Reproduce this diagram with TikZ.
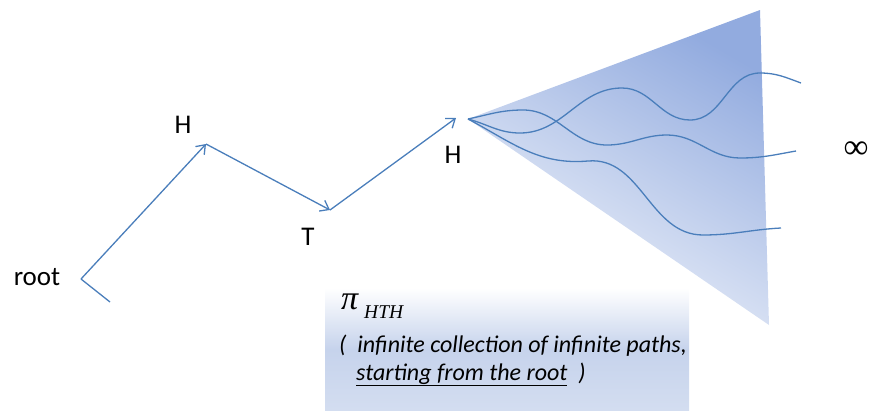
\documentclass[tikz,border=0pt]{standalone}
\usepackage{fontspec}
\setmainfont{Carlito}
\newfontfamily\seriffont{Liberation Serif}
\usetikzlibrary{arrows.meta}
\definecolor{lineblue}{HTML}{4A7EBB}
\definecolor{fandark}{HTML}{92ABDF}
\definecolor{fanlight}{HTML}{F2F5FB}
\definecolor{boxmid}{HTML}{C6D3EC}
\definecolor{boxlow}{HTML}{D3DDF0}
\tikzset{
  edge/.style={draw=lineblue, line width=1.3pt},
  arr/.style={edge, -{Straight Barb[length=8pt,width=12pt,line width=1.3pt]}},
  lab/.style={font=\fontsize{27}{30}\selectfont, inner sep=0pt, anchor=base},
  pathline/.style={draw=lineblue, line width=1.3pt},
  note/.style={font=\fontsize{24}{28}\selectfont\itshape, inner sep=0pt, anchor=base west}
}
\begin{document}
\begin{tikzpicture}[x=1pt,y=1pt]
\useasboundingbox (0,0) rectangle (870,-410);
% fan
\shade[top color=fandark, bottom color=fanlight, shading angle=-30]
  (468,-119) -- (760,-10) -- (769,-325) -- cycle;
% box
\shade[top color=white, bottom color=boxlow, middle color=boxmid]
  (325,-288) rectangle (689,-410);
% key points
\coordinate (tail) at (110,-302);
\coordinate (r) at (81,-279);
\coordinate (h1) at (206,-144);
\coordinate (t) at (330,-210);
\coordinate (h2) at (456,-118);
\coordinate (apex) at (468,-119);
\coordinate (e1) at (801,-83);
\coordinate (e2) at (796,-151);
\coordinate (e3) at (781,-228);
% path arrows
\draw[edge] (tail) -- (r);
\draw[arr] (r) -- (h1);
\draw[arr] (h1) -- (t);
\draw[arr] (t) -- (h2);
% infinite paths
\draw[pathline] (apex) to[out=-15,in=180] (520,-133) to[out=0,in=180] (622,-88)
  to[out=0,in=180] (690,-120) to[out=0,in=180] (760,-73) to[out=0,in=160] (e1);
\draw[pathline] (apex) to[out=12,in=180] (523,-110) to[out=0,in=180] (607,-145)
  to[out=0,in=180] (667,-135) to[out=0,in=180] (740,-158) to[out=0,in=190] (e2);
\draw[pathline] (apex) to[out=-28,in=185] (588,-161) to[out=5,in=180] (703,-235)
  to[out=0,in=183] (e3);
% labels
\node[lab] (lroot) at (37,-285) {root};
\node[lab] (lh1) at (183,-133) {H};
\node[lab] (lt) at (308,-245) {T};
\node[lab] (lh2) at (453,-163) {H};
\node[inner sep=0pt] (linf) at (856,-150) {\seriffont\fontsize{35}{37}\selectfont ∞};
% note
\node[inner sep=0pt, anchor=base west] (pi) at (341,-309) {\seriffont\itshape\fontsize{34}{36}\selectfont π};
\node[inner sep=0pt, anchor=base west] (hth) at (364,-318) {\seriffont\itshape\fontsize{19.5}{21}\selectfont HTH};
\node[note] (n1) at (339,-352) {(\ \ infinite collection of infinite paths,};
\node[note] (n2) at (356,-380) {\underline{starting from the root}\ \ )};
\end{tikzpicture}
\end{document}
